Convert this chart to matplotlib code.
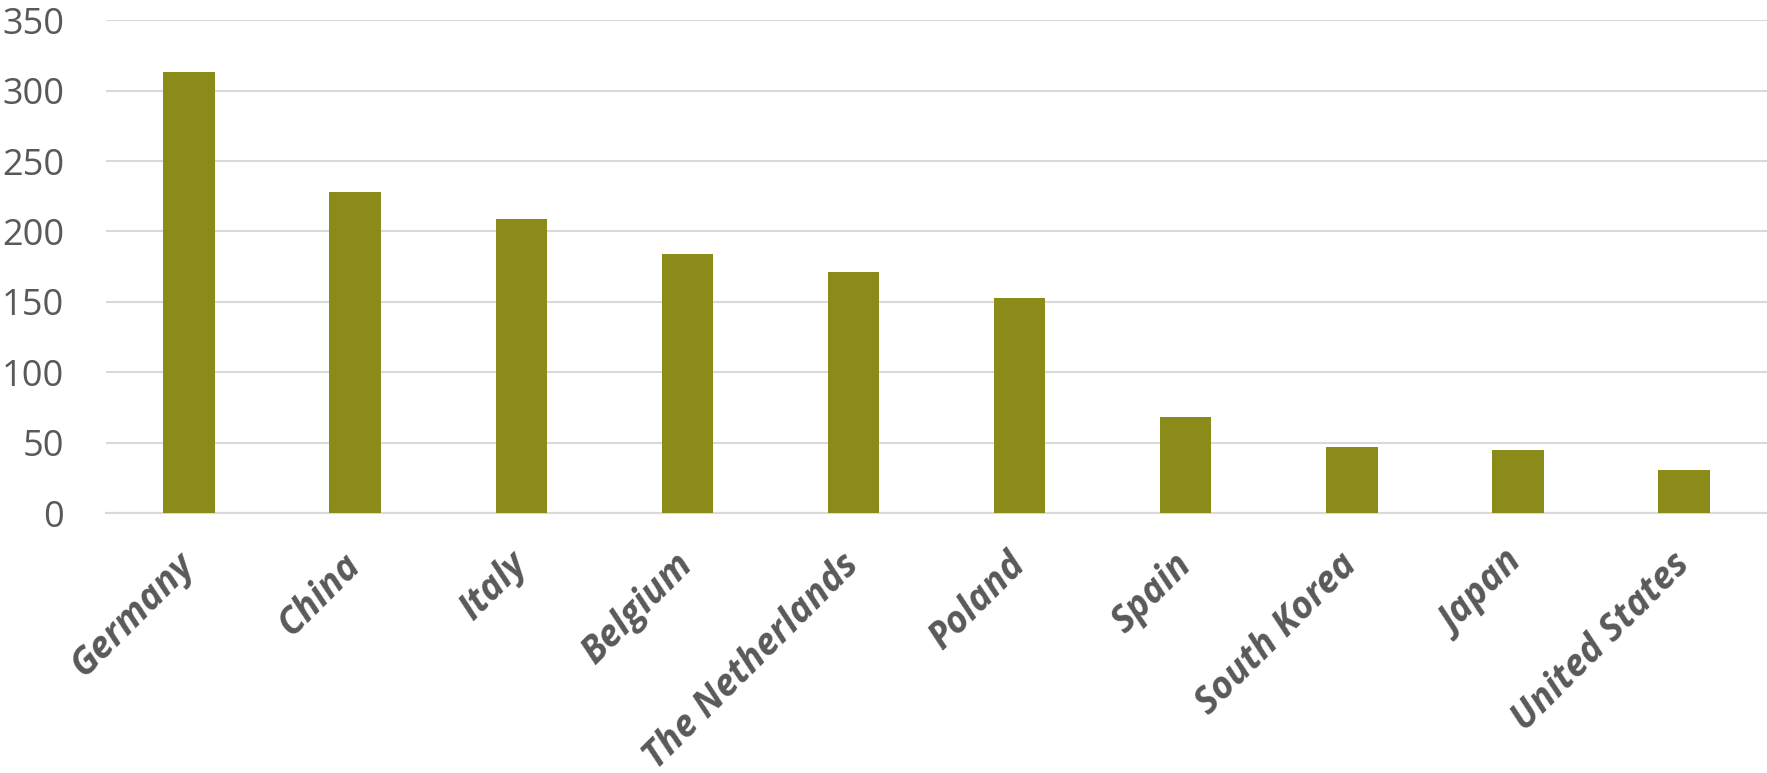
import numpy as np
import matplotlib.pyplot as plt

# Values
countries = ['Germany', 'China', 'Italy', 'Belgium', 'The Netherlands',
             'Poland', 'Spain', 'South Korea', 'Japan', 'United States']
values = [313, 228, 209, 184, 171, 153, 68, 47, 45, 31]
yticks = [0, 50, 100, 150, 200, 250, 300, 350]

bar_color = '#8b8b19'
text_color = '#595959'
grid_color = '#d9d9d9'

plt.rcParams['font.family'] = ['Open Sans', 'DejaVu Sans']

fig = plt.figure(figsize=(17.67, 7.73), dpi=100)
ax = fig.add_axes([0.060, 0.336, 0.940, 0.638])

x = np.arange(len(countries))
ax.bar(x, values, width=0.31, color=bar_color, zorder=3)

ax.set_xlim(-0.5, len(countries) - 0.5)
ax.set_ylim(0, 350)
ax.set_yticks(yticks)
ax.set_yticklabels([str(v) for v in yticks], fontsize=26, color=text_color)
ax.yaxis.grid(True, color=grid_color, linewidth=1.5, zorder=0)

ax.set_xticks(x)
ax.set_xticklabels(countries, rotation=45, ha='right', va='center',
                   rotation_mode='anchor', fontsize=26.5, fontweight='bold',
                   fontstyle='italic', color=text_color)

ax.tick_params(axis='y', length=0, pad=30)
ax.tick_params(axis='x', length=0, pad=33)

for side in ['top', 'right', 'left']:
    ax.spines[side].set_visible(False)
ax.spines['bottom'].set_color(grid_color)
ax.spines['bottom'].set_linewidth(1.5)
ax.spines['bottom'].set_zorder(1)

fig.savefig('out.png', dpi=100, facecolor='white')
